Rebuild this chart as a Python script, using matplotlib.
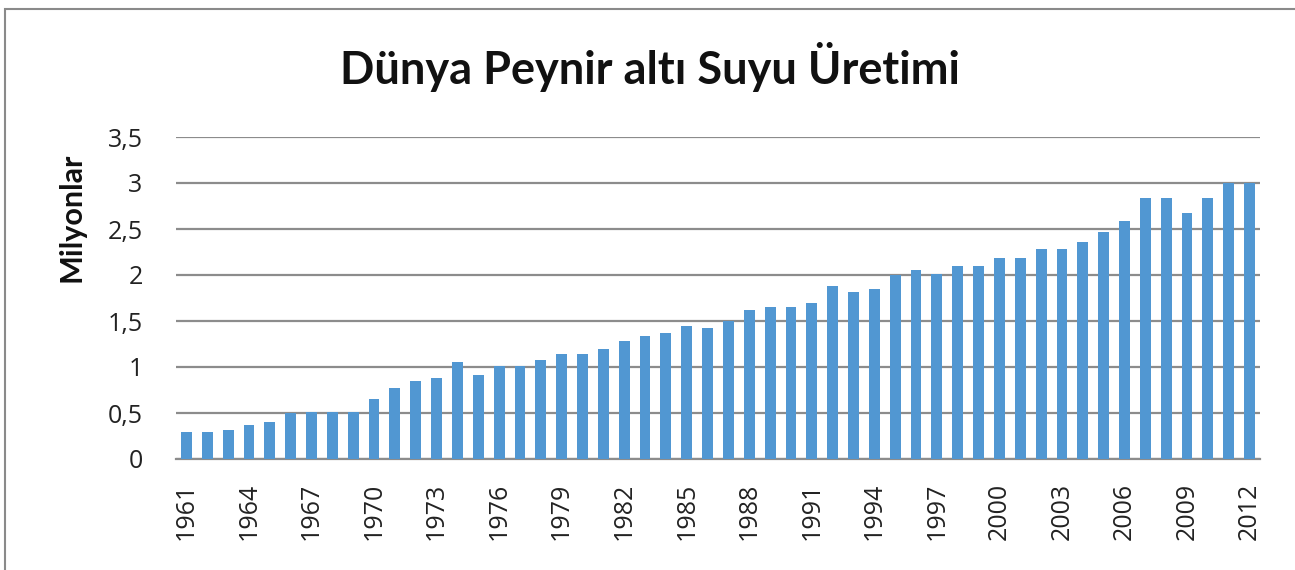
import matplotlib
matplotlib.use("Agg")
import matplotlib.pyplot as plt
from matplotlib.patches import Rectangle

years = list(range(1961, 2013))
values = [0.29, 0.29, 0.32, 0.37, 0.40, 0.50, 0.51, 0.51, 0.51, 0.65,
          0.77, 0.85, 0.88, 1.05, 0.91, 1.01, 1.01, 1.08, 1.14, 1.14,
          1.20, 1.28, 1.34, 1.37, 1.45, 1.42, 1.50, 1.62, 1.65, 1.65,
          1.70, 1.88, 1.82, 1.85, 2.00, 2.05, 2.01, 2.10, 2.10, 2.19,
          2.19, 2.28, 2.28, 2.36, 2.47, 2.59, 2.84, 2.84, 2.67, 2.84,
          3.00, 3.00]
yticks = [0, 0.5, 1, 1.5, 2, 2.5, 3, 3.5]
ytick_labels = ["0", "0,5", "1", "1,5", "2", "2,5", "3", "3,5"]
title = "Dünya Peynir altı Suyu Üretimi"
ylabel = "Milyonlar"

W, H = 1295, 570
fig = plt.figure(figsize=(W / 100, H / 100), dpi=100)
fig.patch.set_facecolor("white")

# outer chart border
fig.patches.append(Rectangle((5 / W, -0.1), 1.2, 1 - 9 / H + 0.1,
                             transform=fig.transFigure, fill=False,
                             edgecolor="#8a8a8a", linewidth=1.5))

ax = fig.add_axes([176 / W, 1 - 459 / H, (1260 - 176) / W, (459 - 137) / H])
x = list(range(len(years)))
ax.bar(x, values, width=0.52, color="#5197D2", zorder=3)
ax.set_xlim(-0.5, len(years) - 0.5)
ax.set_ylim(0, 3.5)
ax.set_yticks(yticks)
ax.set_yticklabels(ytick_labels)
ax.yaxis.grid(True, color="#8c8c8c", linewidth=1.6, zorder=0)
ax.set_axisbelow(True)
for s in ["top", "right", "left"]:
    ax.spines[s].set_visible(False)
ax.spines["bottom"].set_color("#8c8c8c")
ax.spines["bottom"].set_linewidth(1.6)
ax.tick_params(axis="both", length=0, labelsize=18, colors="#222222")
ax.tick_params(axis="y", pad=24)
ax.tick_params(axis="x", pad=17)
tick_idx = list(range(0, len(years), 3))
ax.set_xticks(tick_idx)
ax.set_xticklabels([str(years[i]) for i in tick_idx], rotation=90,
                   fontfamily="Open Sans")
for lab in ax.get_yticklabels():
    lab.set_fontfamily("Open Sans")
    lab.set_horizontalalignment("right")

fig.text(650 / W, 1 - 67 / H, title, ha="center", va="center",
         fontsize=32.5, fontweight="bold", fontfamily="Lato", color="#111111")
fig.text(72 / W, 1 - 217 / H, ylabel, ha="center", va="center",
         rotation=90, fontsize=22, fontweight="bold", fontfamily="Lato",
         color="#111111")

fig.savefig("out.png", dpi=100, facecolor="white")
